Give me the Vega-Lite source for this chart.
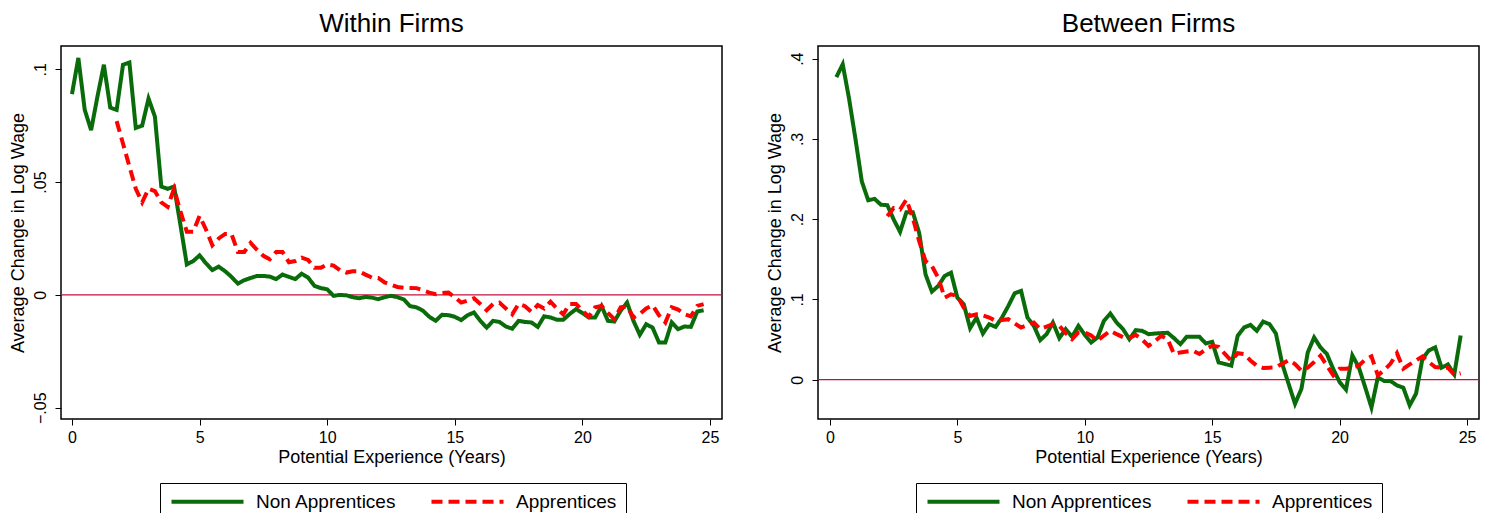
{
  "$schema": "https://vega.github.io/schema/vega-lite/v6.json",
  "background": "white",
  "padding": {"left": 8, "top": 10, "right": 5, "bottom": 0},
  "spacing": 41,
  "config": {
    "font": "Liberation Sans",
    "view": {"stroke": "black", "strokeWidth": 1.5},
    "axis": {"grid": false, "domain": false, "tickColor": "black", "tickSize": 6, "tickWidth": 1, "labelFontSize": 16, "titleFontSize": 18, "labelColor": "black", "titleColor": "black", "titleFontWeight": "normal"},
    "title": {"fontSize": 26, "fontWeight": "normal", "color": "black", "offset": 9, "frame": "group", "anchor": "middle"},
    "legend": {"orient": "none", "direction": "horizontal", "strokeColor": "black", "padding": 9, "symbolType": "M-7.2,0H7.2", "symbolSize": 100, "symbolStrokeWidth": 4, "symbolOffset": 29, "labelOffset": 39, "labelFontSize": 19, "labelColor": "black", "columnPadding": 26, "title": null}
  },
  "resolve": {"scale": {"color": "independent", "strokeDash": "independent"}, "legend": {"color": "independent", "strokeDash": "independent"}},
  "datasets": {
    "within": [
      {"s":"Non Apprentices","x":0,"y":0.089},{"s":"Non Apprentices","x":0.25,"y":0.105},{"s":"Non Apprentices","x":0.5,"y":0.082},{"s":"Non Apprentices","x":0.75,"y":0.073},{"s":"Non Apprentices","x":1,"y":0.088},{"s":"Non Apprentices","x":1.25,"y":0.102},{"s":"Non Apprentices","x":1.5,"y":0.083},{"s":"Non Apprentices","x":1.75,"y":0.082},{"s":"Non Apprentices","x":2,"y":0.102},{"s":"Non Apprentices","x":2.25,"y":0.103},{"s":"Non Apprentices","x":2.5,"y":0.074},{"s":"Non Apprentices","x":2.75,"y":0.075},{"s":"Non Apprentices","x":3,"y":0.087},{"s":"Non Apprentices","x":3.25,"y":0.079},{"s":"Non Apprentices","x":3.5,"y":0.048},{"s":"Non Apprentices","x":3.75,"y":0.047},{"s":"Non Apprentices","x":4,"y":0.048},{"s":"Non Apprentices","x":4.25,"y":0.031},{"s":"Non Apprentices","x":4.5,"y":0.0135},{"s":"Non Apprentices","x":4.75,"y":0.015},{"s":"Non Apprentices","x":5,"y":0.0175},{"s":"Non Apprentices","x":5.25,"y":0.014},{"s":"Non Apprentices","x":5.5,"y":0.011},{"s":"Non Apprentices","x":5.75,"y":0.0125},{"s":"Non Apprentices","x":6,"y":0.0105},{"s":"Non Apprentices","x":6.25,"y":0.008},{"s":"Non Apprentices","x":6.5,"y":0.005},{"s":"Non Apprentices","x":6.75,"y":0.0065},{"s":"Non Apprentices","x":7,"y":0.0075},{"s":"Non Apprentices","x":7.25,"y":0.0084},{"s":"Non Apprentices","x":7.5,"y":0.0084},{"s":"Non Apprentices","x":7.75,"y":0.0081},{"s":"Non Apprentices","x":8,"y":0.007},{"s":"Non Apprentices","x":8.25,"y":0.009},{"s":"Non Apprentices","x":8.5,"y":0.008},{"s":"Non Apprentices","x":8.75,"y":0.007},{"s":"Non Apprentices","x":9,"y":0.0094},{"s":"Non Apprentices","x":9.25,"y":0.0077},{"s":"Non Apprentices","x":9.5,"y":0.004},{"s":"Non Apprentices","x":9.75,"y":0.003},{"s":"Non Apprentices","x":10,"y":0.0025},{"s":"Non Apprentices","x":10.25,"y":-0.0004},{"s":"Non Apprentices","x":10.5,"y":0},{"s":"Non Apprentices","x":10.75,"y":-0.0002},{"s":"Non Apprentices","x":11,"y":-0.001},{"s":"Non Apprentices","x":11.25,"y":-0.0015},{"s":"Non Apprentices","x":11.5,"y":-0.0009},{"s":"Non Apprentices","x":11.75,"y":-0.0012},{"s":"Non Apprentices","x":12,"y":-0.0019},{"s":"Non Apprentices","x":12.25,"y":-0.001},{"s":"Non Apprentices","x":12.5,"y":-0.0004},{"s":"Non Apprentices","x":12.75,"y":-0.001},{"s":"Non Apprentices","x":13,"y":-0.002},{"s":"Non Apprentices","x":13.25,"y":-0.005},{"s":"Non Apprentices","x":13.5,"y":-0.0055},{"s":"Non Apprentices","x":13.75,"y":-0.007},{"s":"Non Apprentices","x":14,"y":-0.0097},{"s":"Non Apprentices","x":14.25,"y":-0.0115},{"s":"Non Apprentices","x":14.5,"y":-0.0088},{"s":"Non Apprentices","x":14.75,"y":-0.009},{"s":"Non Apprentices","x":15,"y":-0.0097},{"s":"Non Apprentices","x":15.25,"y":-0.0112},{"s":"Non Apprentices","x":15.5,"y":-0.009},{"s":"Non Apprentices","x":15.75,"y":-0.0078},{"s":"Non Apprentices","x":16,"y":-0.0115},{"s":"Non Apprentices","x":16.25,"y":-0.0145},{"s":"Non Apprentices","x":16.5,"y":-0.0115},{"s":"Non Apprentices","x":16.75,"y":-0.012},{"s":"Non Apprentices","x":17,"y":-0.014},{"s":"Non Apprentices","x":17.25,"y":-0.015},{"s":"Non Apprentices","x":17.5,"y":-0.0115},{"s":"Non Apprentices","x":17.75,"y":-0.012},{"s":"Non Apprentices","x":18,"y":-0.0122},{"s":"Non Apprentices","x":18.25,"y":-0.0142},{"s":"Non Apprentices","x":18.5,"y":-0.0095},{"s":"Non Apprentices","x":18.75,"y":-0.01},{"s":"Non Apprentices","x":19,"y":-0.011},{"s":"Non Apprentices","x":19.25,"y":-0.011},{"s":"Non Apprentices","x":19.5,"y":-0.0085},{"s":"Non Apprentices","x":19.75,"y":-0.0063},{"s":"Non Apprentices","x":20,"y":-0.008},{"s":"Non Apprentices","x":20.25,"y":-0.01},{"s":"Non Apprentices","x":20.5,"y":-0.01},{"s":"Non Apprentices","x":20.75,"y":-0.0049},{"s":"Non Apprentices","x":21,"y":-0.0115},{"s":"Non Apprentices","x":21.25,"y":-0.0118},{"s":"Non Apprentices","x":21.5,"y":-0.007},{"s":"Non Apprentices","x":21.75,"y":-0.0034},{"s":"Non Apprentices","x":22,"y":-0.0115},{"s":"Non Apprentices","x":22.25,"y":-0.0177},{"s":"Non Apprentices","x":22.5,"y":-0.013},{"s":"Non Apprentices","x":22.75,"y":-0.0145},{"s":"Non Apprentices","x":23,"y":-0.0211},{"s":"Non Apprentices","x":23.25,"y":-0.0211},{"s":"Non Apprentices","x":23.5,"y":-0.0122},{"s":"Non Apprentices","x":23.75,"y":-0.0152},{"s":"Non Apprentices","x":24,"y":-0.014},{"s":"Non Apprentices","x":24.25,"y":-0.0142},{"s":"Non Apprentices","x":24.5,"y":-0.0074},{"s":"Non Apprentices","x":24.75,"y":-0.0068},
      {"s":"Apprentices","x":1.75,"y":0.077},{"s":"Apprentices","x":2,"y":0.067},{"s":"Apprentices","x":2.25,"y":0.057},{"s":"Apprentices","x":2.5,"y":0.047},{"s":"Apprentices","x":2.75,"y":0.041},{"s":"Apprentices","x":3,"y":0.047},{"s":"Apprentices","x":3.25,"y":0.046},{"s":"Apprentices","x":3.5,"y":0.041},{"s":"Apprentices","x":3.75,"y":0.039},{"s":"Apprentices","x":4,"y":0.047},{"s":"Apprentices","x":4.25,"y":0.037},{"s":"Apprentices","x":4.5,"y":0.028},{"s":"Apprentices","x":4.75,"y":0.028},{"s":"Apprentices","x":5,"y":0.035},{"s":"Apprentices","x":5.25,"y":0.029},{"s":"Apprentices","x":5.5,"y":0.022},{"s":"Apprentices","x":5.75,"y":0.025},{"s":"Apprentices","x":6,"y":0.027},{"s":"Apprentices","x":6.25,"y":0.027},{"s":"Apprentices","x":6.5,"y":0.019},{"s":"Apprentices","x":6.75,"y":0.019},{"s":"Apprentices","x":7,"y":0.023},{"s":"Apprentices","x":7.25,"y":0.02},{"s":"Apprentices","x":7.5,"y":0.0173},{"s":"Apprentices","x":7.75,"y":0.0158},{"s":"Apprentices","x":8,"y":0.019},{"s":"Apprentices","x":8.25,"y":0.019},{"s":"Apprentices","x":8.5,"y":0.0145},{"s":"Apprentices","x":8.75,"y":0.015},{"s":"Apprentices","x":9,"y":0.0165},{"s":"Apprentices","x":9.25,"y":0.0155},{"s":"Apprentices","x":9.5,"y":0.012},{"s":"Apprentices","x":9.75,"y":0.012},{"s":"Apprentices","x":10,"y":0.0135},{"s":"Apprentices","x":10.25,"y":0.013},{"s":"Apprentices","x":10.5,"y":0.011},{"s":"Apprentices","x":10.75,"y":0.0099},{"s":"Apprentices","x":11,"y":0.0105},{"s":"Apprentices","x":11.25,"y":0.0105},{"s":"Apprentices","x":11.5,"y":0.009},{"s":"Apprentices","x":11.75,"y":0.0077},{"s":"Apprentices","x":12,"y":0.0075},{"s":"Apprentices","x":12.25,"y":0.0055},{"s":"Apprentices","x":12.5,"y":0.0045},{"s":"Apprentices","x":12.75,"y":0.0035},{"s":"Apprentices","x":13,"y":0.0032},{"s":"Apprentices","x":13.25,"y":0.0031},{"s":"Apprentices","x":13.5,"y":0.003},{"s":"Apprentices","x":13.75,"y":0.002},{"s":"Apprentices","x":14,"y":0.001},{"s":"Apprentices","x":14.25,"y":0.0003},{"s":"Apprentices","x":14.5,"y":0.0008},{"s":"Apprentices","x":14.75,"y":0.001},{"s":"Apprentices","x":15,"y":-0.001},{"s":"Apprentices","x":15.25,"y":-0.0034},{"s":"Apprentices","x":15.5,"y":-0.0025},{"s":"Apprentices","x":15.75,"y":-0.0015},{"s":"Apprentices","x":16,"y":-0.004},{"s":"Apprentices","x":16.25,"y":-0.0068},{"s":"Apprentices","x":16.5,"y":-0.004},{"s":"Apprentices","x":16.75,"y":-0.0034},{"s":"Apprentices","x":17,"y":-0.006},{"s":"Apprentices","x":17.25,"y":-0.0086},{"s":"Apprentices","x":17.5,"y":-0.004},{"s":"Apprentices","x":17.75,"y":-0.005},{"s":"Apprentices","x":18,"y":-0.0075},{"s":"Apprentices","x":18.25,"y":-0.0045},{"s":"Apprentices","x":18.5,"y":-0.006},{"s":"Apprentices","x":18.75,"y":-0.003},{"s":"Apprentices","x":19,"y":-0.006},{"s":"Apprentices","x":19.25,"y":-0.0086},{"s":"Apprentices","x":19.5,"y":-0.004},{"s":"Apprentices","x":19.75,"y":-0.004},{"s":"Apprentices","x":20,"y":-0.007},{"s":"Apprentices","x":20.25,"y":-0.0097},{"s":"Apprentices","x":20.5,"y":-0.0055},{"s":"Apprentices","x":20.75,"y":-0.0049},{"s":"Apprentices","x":21,"y":-0.008},{"s":"Apprentices","x":21.25,"y":-0.0108},{"s":"Apprentices","x":21.5,"y":-0.0055},{"s":"Apprentices","x":21.75,"y":-0.005},{"s":"Apprentices","x":22,"y":-0.01},{"s":"Apprentices","x":22.25,"y":-0.0085},{"s":"Apprentices","x":22.5,"y":-0.006},{"s":"Apprentices","x":22.75,"y":-0.0046},{"s":"Apprentices","x":23,"y":-0.009},{"s":"Apprentices","x":23.25,"y":-0.0122},{"s":"Apprentices","x":23.5,"y":-0.0055},{"s":"Apprentices","x":23.75,"y":-0.0065},{"s":"Apprentices","x":24,"y":-0.0085},{"s":"Apprentices","x":24.25,"y":-0.0095},{"s":"Apprentices","x":24.5,"y":-0.0049},{"s":"Apprentices","x":24.75,"y":-0.0041}
    ],
    "between": [
      {"s":"Non Apprentices","x":0.25,"y":0.377},{"s":"Non Apprentices","x":0.5,"y":0.393},{"s":"Non Apprentices","x":0.75,"y":0.35},{"s":"Non Apprentices","x":1,"y":0.3},{"s":"Non Apprentices","x":1.25,"y":0.247},{"s":"Non Apprentices","x":1.5,"y":0.2236},{"s":"Non Apprentices","x":1.75,"y":0.2253},{"s":"Non Apprentices","x":2,"y":0.218},{"s":"Non Apprentices","x":2.25,"y":0.2174},{"s":"Non Apprentices","x":2.5,"y":0.1996},{"s":"Non Apprentices","x":2.75,"y":0.1842},{"s":"Non Apprentices","x":3,"y":0.2087},{"s":"Non Apprentices","x":3.25,"y":0.2087},{"s":"Non Apprentices","x":3.5,"y":0.183},{"s":"Non Apprentices","x":3.75,"y":0.1313},{"s":"Non Apprentices","x":4,"y":0.1097},{"s":"Non Apprentices","x":4.25,"y":0.1168},{"s":"Non Apprentices","x":4.5,"y":0.1292},{"s":"Non Apprentices","x":4.75,"y":0.1333},{"s":"Non Apprentices","x":5,"y":0.1022},{"s":"Non Apprentices","x":5.25,"y":0.094},{"s":"Non Apprentices","x":5.5,"y":0.0642},{"s":"Non Apprentices","x":5.75,"y":0.0774},{"s":"Non Apprentices","x":6,"y":0.0575},{"s":"Non Apprentices","x":6.25,"y":0.0692},{"s":"Non Apprentices","x":6.5,"y":0.0658},{"s":"Non Apprentices","x":6.75,"y":0.0774},{"s":"Non Apprentices","x":7,"y":0.092},{"s":"Non Apprentices","x":7.25,"y":0.1077},{"s":"Non Apprentices","x":7.5,"y":0.1106},{"s":"Non Apprentices","x":7.75,"y":0.0774},{"s":"Non Apprentices","x":8,"y":0.0671},{"s":"Non Apprentices","x":8.25,"y":0.0493},{"s":"Non Apprentices","x":8.5,"y":0.0567},{"s":"Non Apprentices","x":8.75,"y":0.0712},{"s":"Non Apprentices","x":9,"y":0.0518},{"s":"Non Apprentices","x":9.25,"y":0.063},{"s":"Non Apprentices","x":9.5,"y":0.0534},{"s":"Non Apprentices","x":9.75,"y":0.0671},{"s":"Non Apprentices","x":10,"y":0.0559},{"s":"Non Apprentices","x":10.25,"y":0.0463},{"s":"Non Apprentices","x":10.5,"y":0.0526},{"s":"Non Apprentices","x":10.75,"y":0.0733},{"s":"Non Apprentices","x":11,"y":0.0824},{"s":"Non Apprentices","x":11.25,"y":0.0712},{"s":"Non Apprentices","x":11.5,"y":0.063},{"s":"Non Apprentices","x":11.75,"y":0.0505},{"s":"Non Apprentices","x":12,"y":0.0617},{"s":"Non Apprentices","x":12.25,"y":0.0609},{"s":"Non Apprentices","x":12.5,"y":0.0567},{"s":"Non Apprentices","x":12.75,"y":0.0575},{"s":"Non Apprentices","x":13,"y":0.058},{"s":"Non Apprentices","x":13.25,"y":0.0584},{"s":"Non Apprentices","x":13.5,"y":0.0518},{"s":"Non Apprentices","x":13.75,"y":0.0443},{"s":"Non Apprentices","x":14,"y":0.0534},{"s":"Non Apprentices","x":14.25,"y":0.0534},{"s":"Non Apprentices","x":14.5,"y":0.0534},{"s":"Non Apprentices","x":14.75,"y":0.0451},{"s":"Non Apprentices","x":15,"y":0.0472},{"s":"Non Apprentices","x":15.25,"y":0.0215},{"s":"Non Apprentices","x":15.5,"y":0.0195},{"s":"Non Apprentices","x":15.75,"y":0.0174},{"s":"Non Apprentices","x":16,"y":0.0547},{"s":"Non Apprentices","x":16.25,"y":0.065},{"s":"Non Apprentices","x":16.5,"y":0.0683},{"s":"Non Apprentices","x":16.75,"y":0.0609},{"s":"Non Apprentices","x":17,"y":0.0724},{"s":"Non Apprentices","x":17.25,"y":0.0691},{"s":"Non Apprentices","x":17.5,"y":0.0575},{"s":"Non Apprentices","x":17.75,"y":0.0195},{"s":"Non Apprentices","x":18,"y":-0.0054},{"s":"Non Apprentices","x":18.25,"y":-0.03},{"s":"Non Apprentices","x":18.5,"y":-0.0116},{"s":"Non Apprentices","x":18.75,"y":0.034},{"s":"Non Apprentices","x":19,"y":0.0526},{"s":"Non Apprentices","x":19.25,"y":0.0402},{"s":"Non Apprentices","x":19.5,"y":0.032},{"s":"Non Apprentices","x":19.75,"y":0.0133},{"s":"Non Apprentices","x":20,"y":-0.003},{"s":"Non Apprentices","x":20.25,"y":-0.0124},{"s":"Non Apprentices","x":20.5,"y":0.0302},{"s":"Non Apprentices","x":20.75,"y":0.0157},{"s":"Non Apprentices","x":21,"y":-0.0091},{"s":"Non Apprentices","x":21.25,"y":-0.0347},{"s":"Non Apprentices","x":21.5,"y":0.0029},{"s":"Non Apprentices","x":21.75,"y":-0.0017},{"s":"Non Apprentices","x":22,"y":-0.0017},{"s":"Non Apprentices","x":22.25,"y":-0.0071},{"s":"Non Apprentices","x":22.5,"y":-0.01},{"s":"Non Apprentices","x":22.75,"y":-0.032},{"s":"Non Apprentices","x":23,"y":-0.0174},{"s":"Non Apprentices","x":23.25,"y":0.0261},{"s":"Non Apprentices","x":23.5,"y":0.0364},{"s":"Non Apprentices","x":23.75,"y":0.0402},{"s":"Non Apprentices","x":24,"y":0.0149},{"s":"Non Apprentices","x":24.25,"y":0.019},{"s":"Non Apprentices","x":24.5,"y":0.0066},{"s":"Non Apprentices","x":24.75,"y":0.055},
      {"s":"Apprentices","x":2.25,"y":0.2037},{"s":"Apprentices","x":2.5,"y":0.214},{"s":"Apprentices","x":2.75,"y":0.212},{"s":"Apprentices","x":3,"y":0.2245},{"s":"Apprentices","x":3.25,"y":0.2016},{"s":"Apprentices","x":3.5,"y":0.1727},{"s":"Apprentices","x":3.75,"y":0.1478},{"s":"Apprentices","x":4,"y":0.1416},{"s":"Apprentices","x":4.25,"y":0.127},{"s":"Apprentices","x":4.5,"y":0.1022},{"s":"Apprentices","x":4.75,"y":0.1064},{"s":"Apprentices","x":5,"y":0.1043},{"s":"Apprentices","x":5.25,"y":0.0898},{"s":"Apprentices","x":5.5,"y":0.0795},{"s":"Apprentices","x":5.75,"y":0.0816},{"s":"Apprentices","x":6,"y":0.08},{"s":"Apprentices","x":6.25,"y":0.0774},{"s":"Apprentices","x":6.5,"y":0.0733},{"s":"Apprentices","x":6.75,"y":0.0742},{"s":"Apprentices","x":7,"y":0.0754},{"s":"Apprentices","x":7.25,"y":0.07},{"s":"Apprentices","x":7.5,"y":0.065},{"s":"Apprentices","x":7.75,"y":0.068},{"s":"Apprentices","x":8,"y":0.0712},{"s":"Apprentices","x":8.25,"y":0.063},{"s":"Apprentices","x":8.5,"y":0.066},{"s":"Apprentices","x":8.75,"y":0.0691},{"s":"Apprentices","x":9,"y":0.067},{"s":"Apprentices","x":9.25,"y":0.058},{"s":"Apprentices","x":9.5,"y":0.0505},{"s":"Apprentices","x":9.75,"y":0.0588},{"s":"Apprentices","x":10,"y":0.0588},{"s":"Apprentices","x":10.25,"y":0.055},{"s":"Apprentices","x":10.5,"y":0.0484},{"s":"Apprentices","x":10.75,"y":0.055},{"s":"Apprentices","x":11,"y":0.0609},{"s":"Apprentices","x":11.25,"y":0.0567},{"s":"Apprentices","x":11.5,"y":0.053},{"s":"Apprentices","x":11.75,"y":0.0518},{"s":"Apprentices","x":12,"y":0.0559},{"s":"Apprentices","x":12.25,"y":0.05},{"s":"Apprentices","x":12.5,"y":0.0422},{"s":"Apprentices","x":12.75,"y":0.048},{"s":"Apprentices","x":13,"y":0.0547},{"s":"Apprentices","x":13.25,"y":0.0505},{"s":"Apprentices","x":13.5,"y":0.032},{"s":"Apprentices","x":13.75,"y":0.034},{"s":"Apprentices","x":14,"y":0.035},{"s":"Apprentices","x":14.25,"y":0.036},{"s":"Apprentices","x":14.5,"y":0.032},{"s":"Apprentices","x":14.75,"y":0.038},{"s":"Apprentices","x":15,"y":0.0422},{"s":"Apprentices","x":15.25,"y":0.041},{"s":"Apprentices","x":15.5,"y":0.032},{"s":"Apprentices","x":15.75,"y":0.0236},{"s":"Apprentices","x":16,"y":0.033},{"s":"Apprentices","x":16.25,"y":0.032},{"s":"Apprentices","x":16.5,"y":0.024},{"s":"Apprentices","x":16.75,"y":0.0174},{"s":"Apprentices","x":17,"y":0.0145},{"s":"Apprentices","x":17.25,"y":0.015},{"s":"Apprentices","x":17.5,"y":0.0153},{"s":"Apprentices","x":17.75,"y":0.02},{"s":"Apprentices","x":18,"y":0.0244},{"s":"Apprentices","x":18.25,"y":0.0195},{"s":"Apprentices","x":18.5,"y":0.0112},{"s":"Apprentices","x":18.75,"y":0.015},{"s":"Apprentices","x":19,"y":0.022},{"s":"Apprentices","x":19.25,"y":0.03},{"s":"Apprentices","x":19.5,"y":0.0174},{"s":"Apprentices","x":19.75,"y":0.0054},{"s":"Apprentices","x":20,"y":0.0137},{"s":"Apprentices","x":20.25,"y":0.0137},{"s":"Apprentices","x":20.5,"y":0.015},{"s":"Apprentices","x":20.75,"y":0.0174},{"s":"Apprentices","x":21,"y":0.025},{"s":"Apprentices","x":21.25,"y":0.029},{"s":"Apprentices","x":21.5,"y":0.0054},{"s":"Apprentices","x":21.75,"y":0.012},{"s":"Apprentices","x":22,"y":0.02},{"s":"Apprentices","x":22.25,"y":0.033},{"s":"Apprentices","x":22.5,"y":0.0137},{"s":"Apprentices","x":22.75,"y":0.019},{"s":"Apprentices","x":23,"y":0.024},{"s":"Apprentices","x":23.25,"y":0.029},{"s":"Apprentices","x":23.5,"y":0.022},{"s":"Apprentices","x":23.75,"y":0.0157},{"s":"Apprentices","x":24,"y":0.015},{"s":"Apprentices","x":24.25,"y":0.0149},{"s":"Apprentices","x":24.5,"y":0.006},{"s":"Apprentices","x":24.75,"y":0.008}
    ]
  },
  "hconcat": [
    {
      "title": "Within Firms",
      "width": 661,
      "height": 373,
      "layer": [
        {
          "data": {"values": [{"z": 0}]},
          "mark": {"type": "rule", "color": "#c4103f", "strokeWidth": 1.3},
          "encoding": {"y": {"field": "z", "type": "quantitative"}}
        },
        {
          "data": {"name": "within"},
          "mark": {"type": "line", "strokeWidth": 4, "strokeCap": "butt", "strokeJoin": "miter", "clip": true},
          "encoding": {
            "x": {"field": "x", "type": "quantitative", "scale": {"domain": [-0.43, 25.47], "nice": false, "zero": false}, "axis": {"values": [0, 5, 10, 15, 20, 25], "title": "Potential Experience (Years)", "labelPadding": 4, "titlePadding": 3}},
            "y": {"field": "y", "type": "quantitative", "scale": {"domain": [-0.055, 0.1103], "nice": false, "zero": false}, "axis": {"values": [-0.05, 0, 0.05, 0.1], "labelExpr": "replace(format(datum.value, '~g'), '0.', '.')", "labelAngle": -90, "labelAlign": "center", "labelBaseline": "bottom", "labelPadding": 7, "title": "Average Change in Log Wage", "titlePadding": 5}},
            "color": {"field": "s", "type": "nominal", "scale": {"domain": ["Non Apprentices", "Apprentices"], "range": ["#0a6b0a", "#ff0000"]}, "legend": {"legendX": 99, "legendY": 437}},
            "strokeDash": {"field": "s", "type": "nominal", "scale": {"domain": ["Non Apprentices", "Apprentices"], "range": [[1, 0], [11, 6]]}, "legend": {"legendX": 99, "legendY": 437}}
          }
        }
      ]
    },
    {
      "title": "Between Firms",
      "width": 661,
      "height": 373,
      "layer": [
        {
          "data": {"values": [{"z": 0}]},
          "mark": {"type": "rule", "color": "#c4103f", "strokeWidth": 1.3},
          "encoding": {"y": {"field": "z", "type": "quantitative"}}
        },
        {
          "data": {"name": "between"},
          "mark": {"type": "line", "strokeWidth": 4, "strokeCap": "butt", "strokeJoin": "miter", "clip": true},
          "encoding": {
            "x": {"field": "x", "type": "quantitative", "scale": {"domain": [-0.47, 25.47], "nice": false, "zero": false}, "axis": {"values": [0, 5, 10, 15, 20, 25], "title": "Potential Experience (Years)", "labelPadding": 4, "titlePadding": 3}},
            "y": {"field": "y", "type": "quantitative", "scale": {"domain": [-0.049, 0.4158], "nice": false, "zero": false}, "axis": {"values": [0, 0.1, 0.2, 0.3, 0.4], "labelExpr": "replace(format(datum.value, '~g'), '0.', '.')", "labelAngle": -90, "labelAlign": "center", "labelBaseline": "bottom", "labelPadding": 7, "title": "Average Change in Log Wage", "titlePadding": 5}},
            "color": {"field": "s", "type": "nominal", "scale": {"domain": ["Non Apprentices", "Apprentices"], "range": ["#0a6b0a", "#ff0000"]}, "legend": {"legendX": 98, "legendY": 437}},
            "strokeDash": {"field": "s", "type": "nominal", "scale": {"domain": ["Non Apprentices", "Apprentices"], "range": [[1, 0], [11, 6]]}, "legend": {"legendX": 98, "legendY": 437}}
          }
        }
      ]
    }
  ]
}
